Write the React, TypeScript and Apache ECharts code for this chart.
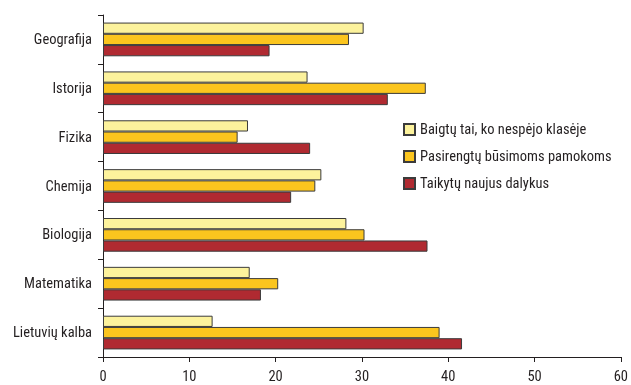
import React, { useEffect, useRef } from "react";
import * as echarts from "echarts";

const categories = ["Geografija", "Istorija", "Fizika", "Chemija", "Biologija", "Matematika", "Lietuvių kalba"];
const seriesNames = ["Baigtų tai, ko nespėjo klasėje", "Pasirengtų būsimoms pamokoms", "Taikytų naujus dalykus"];
const baigtu = [30.2, 23.7, 16.8, 25.3, 28.2, 17.0, 12.7];
const pasirengtu = [28.5, 37.4, 15.6, 24.6, 30.3, 20.3, 39.0];
const taikytu = [19.3, 33.0, 24.0, 21.8, 37.6, 18.3, 41.6];
const colors = ["#fcf29c", "#fbc51e", "#b02a31"];

const FONT = "'Roboto Condensed', 'DejaVu Sans Condensed', sans-serif";
const FS = 14.5;

export default function App() {
  const ref = useRef<HTMLDivElement>(null);
  useEffect(() => {
    if (!ref.current) return;
    const chart = echarts.init(ref.current, null, { renderer: "svg" });
    const data = [baigtu, pasirengtu, taikytu];
    chart.setOption({
      animation: false,
      textStyle: { fontFamily: FONT },
      grid: { left: 103, right: 8, top: 15, bottom: 28, containLabel: false },
      legend: {
        orient: "vertical",
        left: 403,
        top: 122,
        padding: 0,
        itemWidth: 11,
        itemHeight: 11,
        itemGap: 12,
        icon: "rect",
        textStyle: { fontFamily: FONT, fontSize: FS, lineHeight: 15, color: "#231f20" },
        data: seriesNames,
      },
      xAxis: {
        type: "value",
        min: 0,
        max: 60,
        interval: 10,
        axisLine: { show: true, lineStyle: { color: "#231f20", width: 1 } },
        axisTick: { show: true, length: 5, lineStyle: { color: "#231f20" } },
        splitLine: { show: false },
        axisLabel: { fontFamily: FONT, fontSize: FS, color: "#231f20", margin: 12 },
      },
      yAxis: {
        type: "category",
        data: categories,
        inverse: true,
        axisLine: { show: true, lineStyle: { color: "#231f20", width: 1 } },
        axisTick: { show: true, length: 5, lineStyle: { color: "#231f20" } },
        axisLabel: { fontFamily: FONT, fontSize: FS, color: "#231f20", margin: 11 },
      },
      series: seriesNames.map((name, i) => ({
        name,
        type: "bar",
        data: data[i],
        barGap: "0%",
        barCategoryGap: "31%",
        itemStyle: { color: colors[i], borderColor: "#3b3b3b", borderWidth: 1 },
      })),
    });
    return () => chart.dispose();
  }, []);
  return <div ref={ref} style={{ position: "fixed", left: 0, top: 0, width: 631, height: 385 }} />;
}
